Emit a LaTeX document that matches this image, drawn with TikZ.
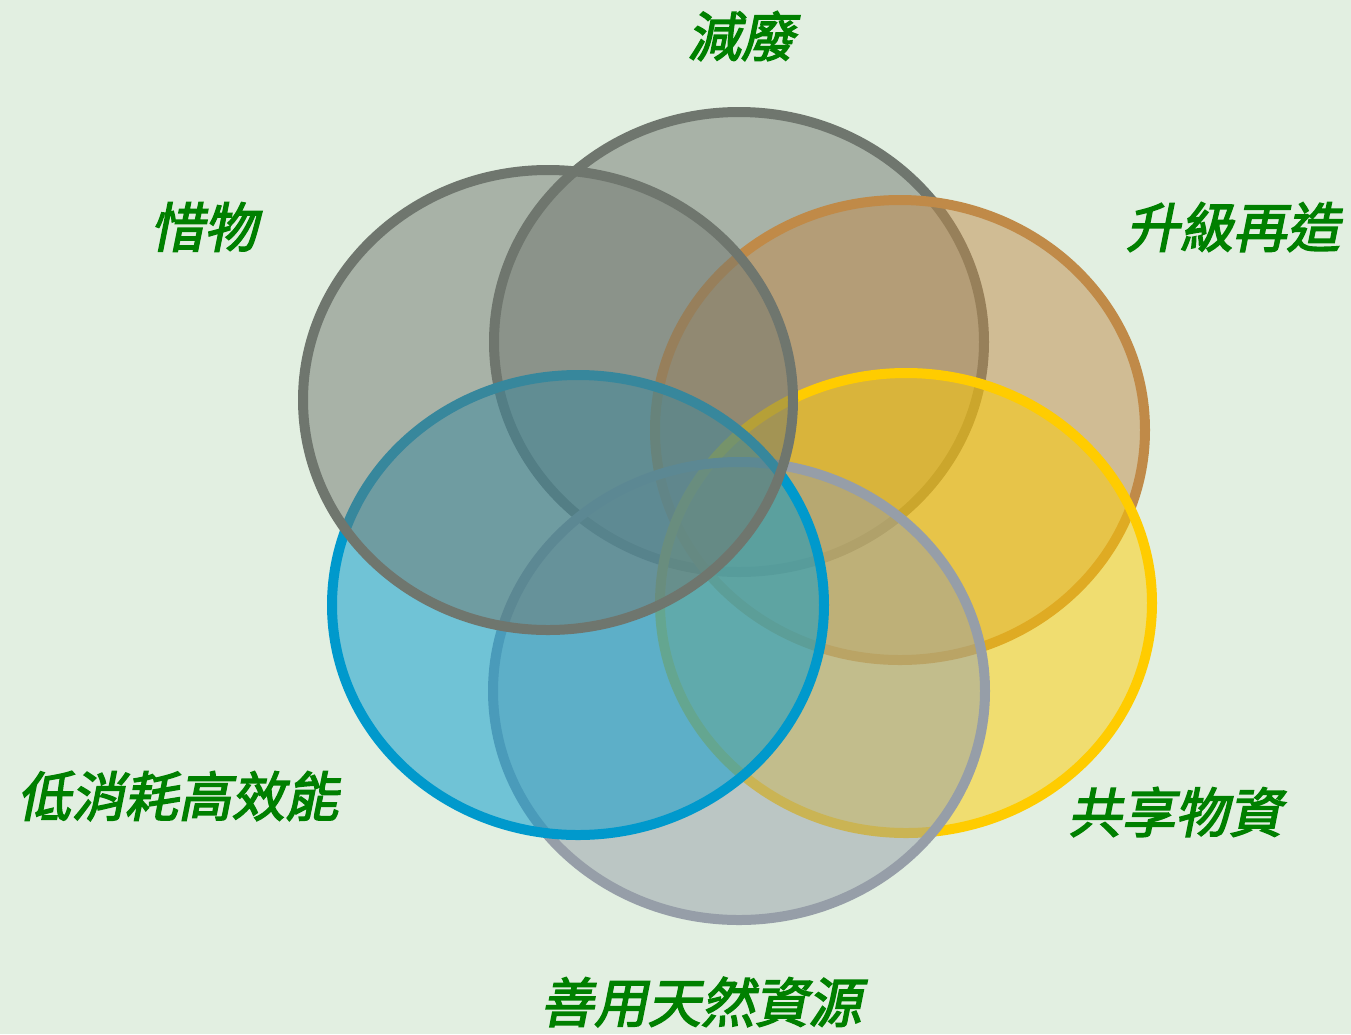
\documentclass[tikz,border=0pt]{standalone}
\usepackage{fontspec}
\newfontfamily\cjk[FakeSlant=0.2,FakeBold=2.8]{Noto Sans CJK TC}
\definecolor{bgc}{RGB}{226,239,225}
\definecolor{lblc}{RGB}{0,128,0}
\definecolor{cgrey}{RGB}{111,118,110}
\definecolor{ctan}{RGB}{192,138,72}
\definecolor{cyel}{RGB}{255,204,0}
\definecolor{cslate}{RGB}{150,158,168}
\definecolor{cblue}{RGB}{0,153,204}
\tikzset{
  ring/.style={draw=#1, fill=#1, fill opacity=0.5, line width=10pt},
  lbl/.style={text=lblc, inner sep=0pt, font=\cjk\fontsize{53.5}{60}\selectfont}
}
\begin{document}
\begin{tikzpicture}[x=1pt,y=-1pt]
\fill[bgc] (0,0) rectangle (1351,1034);
\useasboundingbox (0,0) rectangle (1351,1034);
\path[ring=cgrey]  (739,342) ellipse [x radius=245pt, y radius=230pt];
\path[ring=ctan]   (900,430) ellipse [x radius=245pt, y radius=230pt];
\path[ring=cyel]   (906,603) ellipse [x radius=246pt, y radius=230pt];
\path[ring=cslate] (739,691) ellipse [x radius=246pt, y radius=229pt];
\path[ring=cblue]  (578,605) ellipse [x radius=246pt, y radius=230pt];
\path[ring=cgrey]  (548,400) ellipse [x radius=245pt, y radius=230pt];
\node[lbl] (jianfei) at (741,36) {減廢};
\node[lbl] (shengji) at (1233,227) {升級再造};
\node[lbl] (gongxiang) at (1175,812) {共享物資};
\node[lbl] (shanyong) at (701,1002) {善用天然資源};
\node[lbl] (dixiao) at (178,796) {低消耗高效能};
\node[lbl] (xiwu) at (204,227) {惜物};
\end{tikzpicture}
\end{document}
